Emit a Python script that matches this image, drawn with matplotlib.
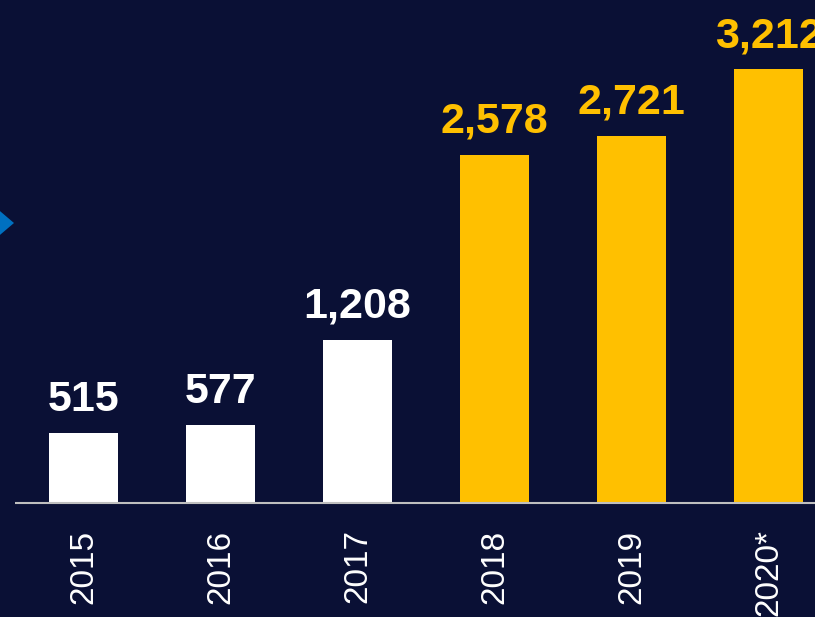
import matplotlib
matplotlib.use("Agg")
import matplotlib.pyplot as plt
from matplotlib.patches import Polygon

years = ["2015", "2016", "2017", "2018", "2019", "2020*"]
values = [515, 577, 1208, 2578, 2721, 3212]
colors = ["#FFFFFF", "#FFFFFF", "#FFFFFF", "#FFC000", "#FFC000", "#FFC000"]

BG = "#0A1035"
W, H = 815, 617
fig = plt.figure(figsize=(W / 100, H / 100), dpi=100, facecolor=BG)
ax = fig.add_axes([0, 114 / H, 1, 1 - 114 / H])
ax.set_facecolor(BG)

x = list(range(len(years)))
ax.bar(x, values, width=69 / 137, color=colors, zorder=2)
ax.set_xlim(-83.5 / 137, (W - 83.5) / 137)
ax.set_ylim(0, 503 / 0.135)

for s in ax.spines.values():
    s.set_visible(False)
ax.set_xticks([])
ax.set_yticks([])

# baseline
ax.plot([-68.5 / 137, (W - 83.5) / 137], [0, 0], color="#BFBFBF", lw=1.5,
        clip_on=False, zorder=3, solid_capstyle="butt")

for xi, v, c in zip(x, values, colors):
    ax.annotate(f"{v:,}", (xi, v), xytext=(0, 16), textcoords="offset points",
                ha="center", va="baseline", color=c, fontsize=31,
                fontweight="bold", family=["Liberation Sans", "DejaVu Sans"])

for xi, lab in zip(x, years):
    ax.annotate(lab, (xi, 0), xytext=(0, -19), textcoords="offset points",
                ha="center", va="top", rotation=90, color="white",
                fontsize=24, family=["Liberation Sans", "DejaVu Sans"],
                annotation_clip=False)

# decorative triangle at the left edge
tri = Polygon([[-6, H - 206], [14, H - 223], [-6, H - 240]], closed=True,
              transform=None, facecolor="#0070C0", edgecolor="none")
fig.patches.append(tri)

fig.savefig("out.png", dpi=100, facecolor=BG)
